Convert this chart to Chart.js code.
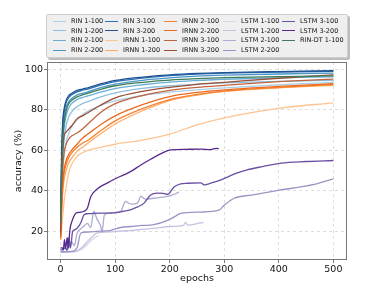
<!DOCTYPE html>
<html>
<head>
<meta charset="utf-8">
<script src="https://cdn.jsdelivr.net/npm/chart.js@4/dist/chart.umd.min.js"></script>
<style>
  html, body { margin: 0; padding: 0; background: #fff; }
  #wrap { position: relative; width: 365px; height: 299px; overflow: hidden; }
  #c { position: absolute; left: 0; top: 0; }
  #legend { position: absolute; left: 46px; top: 14px; width: 300px; height: 42px;
            background: #efefef; border: 1px solid #cfcfcf; border-radius: 2px;
            box-shadow: 2px 2px 0 #bdbdbd; font-family: 'DejaVu Sans', sans-serif; }
  .li { position: absolute; height: 10px; white-space: nowrap; font-size: 6.5px; line-height: 10px; color: #111; }
  .lh { position: absolute; top: 4.5px; width: 13px; height: 0; border-top: 1.3px solid; }
  .lt { position: absolute; left: 18px; top: 0; }
</style>
</head>
<body>
<div id="wrap">
  <canvas id="c" width="365" height="299"></canvas>
  <div id="legend"></div>
</div>
<script>
// ---------------- DATA ----------------
const seriesNames = [
  'RIN 1-100','RIN 1-200','RIN 2-100','RIN 2-200',
  'RIN 3-100','RIN 3-200','IRNN 1-100','IRNN 1-200',
  'IRNN 2-100','IRNN 2-200','IRNN 3-100','IRNN 3-200',
  'LSTM 1-100','LSTM 1-200','LSTM 2-100','LSTM 2-200',
  'LSTM 3-100','LSTM 3-200','RIN-DT 1-100'
];
const seriesColors = [
  '#abd0e6','#8cc0de','#6aaed6','#4a94c8',
  '#2a72b4','#1f5292','#fdc490','#fdab67',
  '#f8812e','#ea6a20','#c0653f','#9c5035',
  '#d6d6ea','#c4c3df','#aeacd2','#9a94c5',
  '#6a4fa3','#55288f','#3d7d57'
];

// epochs shared by RIN / IRNN runs
const epochsMain = [0, 2, 4, 6, 10, 15, 20, 30, 40, 50, 75, 100, 150, 200, 250, 300, 400, 500];
const rin1_100  = [18, 38, 50, 57, 64, 68.5, 71.5, 75, 77.5, 79.3, 82.3, 84.3, 87, 88.7, 89.8, 90.8, 92.3, 93.5];
const rin1_200  = [20, 42, 56, 64, 72, 76.5, 79, 81.5, 83, 84, 86.5, 88.3, 90.5, 91.8, 92.6, 93.2, 94, 94.5];
const rin2_100  = [22, 47, 62, 70, 77, 81, 83, 85, 86, 86.8, 88.8, 90.4, 92.3, 93.6, 94.4, 95, 95.7, 96.2];
const rin2_200  = [25, 52, 68, 75, 81, 84, 85.5, 87.2, 88, 88.8, 91, 92.6, 94.5, 95.7, 96.5, 97, 97.6, 98];
const rin3_100  = [28, 57, 72, 78, 83.5, 86, 87.3, 88.8, 89.6, 90.2, 92.2, 93.8, 95.6, 96.8, 97.5, 98, 98.5, 98.9];
const rin3_200  = [30, 60, 75, 80, 84.5, 87, 88, 89.5, 90.2, 90.8, 92.8, 94.4, 96.1, 97.2, 97.9, 98.3, 98.8, 99.2];
const irnn1_100 = [16, 22, 28, 34, 42, 49, 53, 57, 58.8, 60, 61.5, 63, 65, 68, 72.5, 76, 80.7, 83.4];
const irnn1_200 = [16, 30, 40, 45, 50, 54, 56, 59.5, 61.5, 63.5, 68.5, 73, 79.5, 84.5, 87.2, 89, 90.8, 92];
const irnn2_100 = [17, 33, 42, 48, 53, 56.5, 58.5, 61.5, 63.5, 65, 70, 74.5, 80.5, 85, 87.5, 89.2, 91, 92.4];
const irnn2_200 = [17, 35, 45, 50, 55, 58, 60, 63, 66, 68, 73, 77, 82.5, 86.5, 88.5, 89.8, 91.5, 92.8];
const irnn3_100 = [18, 40, 52, 58, 63, 65.5, 67, 68.5, 70.5, 73, 79, 83, 87, 89.5, 91, 92, 93.8, 95.1];
const irnn3_200 = [20, 50, 60, 66.7, 69, 70.5, 72, 75.5, 77, 78.5, 82.5, 85.8, 89, 91, 92.5, 93.5, 95.5, 97.2];
const rinDt1_100 = [25, 50, 66, 73, 79.5, 83, 84.5, 86.3, 87.3, 88.1, 90.2, 91.8, 93.5, 94.6, 95.3, 95.8, 96.3, 96.7];

// LSTM runs (different lengths)
const lstm1_100Ep  = [0, 10, 20, 30, 40, 50, 60, 70];
const lstm1_100    = [10, 10, 10, 10.3, 11.5, 14, 16.5, 18];
const lstm1_200Ep  = [0, 15, 30, 40, 49, 58, 67, 80, 98, 120, 141, 170, 202, 225, 229, 233, 257, 262];
const lstm1_200    = [10, 10, 10.5, 12.5, 15, 17.5, 19.3, 19.7, 20, 20.4, 20.9, 21.6, 22.5, 23, 24.5, 23.2, 24.3, 24.5];
const lstm2_100Ep  = [0, 8, 15, 20, 25, 30, 35, 40, 49, 55, 61, 64, 67, 73, 76, 80, 86, 100, 110, 119, 125, 130, 141, 147, 155, 171, 196, 210, 217];
const lstm2_100    = [10, 10, 12, 15, 13, 19, 21, 22, 24, 22, 30, 28, 26, 23, 20, 28, 29, 29.5, 30, 34.8, 34, 33.5, 34, 37.3, 36, 36.4, 37.3, 38.5, 39.5];
const lstm2_200Ep  = [0, 10, 20, 30, 37, 50, 70, 90, 110, 130, 150, 171, 196, 210, 220, 257, 290, 300, 318, 350, 404, 440, 465, 494, 500];
const lstm2_200    = [10, 10, 10.2, 12, 19.3, 19.8, 20.2, 20.5, 22, 22.5, 23, 23.4, 25.5, 27.5, 29, 29.6, 30.5, 33, 36.4, 38, 40.5, 42, 43.2, 45.5, 46];
const lstm3_100Ep  = [0, 4, 8, 12, 15, 18, 22, 27, 33, 38, 43, 50, 61, 80, 98, 115, 128, 140, 153, 165, 177, 188, 196, 208, 220, 232, 257, 263, 275, 294, 320, 342, 370, 404, 450, 500];
const lstm3_100    = [11, 11, 12, 11, 17, 12, 20, 21, 22.5, 25, 28.3, 28.8, 29, 29.1, 29.2, 30, 30.7, 32, 34, 38, 38.9, 38.8, 38.3, 42, 43.5, 43.8, 44, 43, 43.8, 45.5, 48.5, 50.4, 52, 53.7, 54.5, 55];
const lstm3_200Ep  = [0, 3, 5, 7, 9, 12, 14, 17, 22, 28, 35, 43, 49, 55, 67, 86, 104, 128, 147, 165, 185, 202, 230, 257, 275, 285, 290];
const lstm3_200    = [12, 12, 11, 16, 11.5, 17, 12, 21, 26, 29, 29.5, 30, 31.5, 37, 41, 44, 46.5, 49.5, 52.8, 55.6, 58.5, 60.2, 60.5, 60.6, 60.4, 61, 60.8];

const xTicks = [0, 100, 200, 300, 400, 500];
const yTicks = [20, 40, 60, 80, 100];

// ---------------- BUILD ----------------
const seriesData = [
  [epochsMain, rin1_100], [epochsMain, rin1_200], [epochsMain, rin2_100], [epochsMain, rin2_200],
  [epochsMain, rin3_100], [epochsMain, rin3_200], [epochsMain, irnn1_100], [epochsMain, irnn1_200],
  [epochsMain, irnn2_100], [epochsMain, irnn2_200], [epochsMain, irnn3_100], [epochsMain, irnn3_200],
  [lstm1_100Ep, lstm1_100], [lstm1_200Ep, lstm1_200], [lstm2_100Ep, lstm2_100], [lstm2_200Ep, lstm2_200],
  [lstm3_100Ep, lstm3_100], [lstm3_200Ep, lstm3_200], [epochsMain, rinDt1_100]
];
const N = seriesNames.length;
const datasets = seriesNames.map((name, i) => ({
  label: name,
  data: seriesData[i][0].map((e, k) => ({ x: e, y: seriesData[i][1][k] })),
  borderColor: seriesColors[i],
  backgroundColor: seriesColors[i],
  borderWidth: 1.3,
  pointRadius: 0,
  fill: false,
  cubicInterpolationMode: 'monotone',
  order: N - i
}));

const frame = {
  id: 'frame',
  afterDatasetsDraw(chart) {
    const a = chart.chartArea, ctx = chart.ctx;
    ctx.save();
    ctx.strokeStyle = '#777';
    ctx.lineWidth = 1;
    ctx.strokeRect(Math.round(a.left) + 0.5, Math.round(a.top) + 0.5, Math.round(a.right - a.left) - 1, Math.round(a.bottom - a.top) - 1);
    ctx.restore();
  }
};

const tickFont = { family: 'DejaVu Sans', size: 9.5 };
new Chart(document.getElementById('c'), {
  type: 'line',
  data: { datasets },
  options: {
    responsive: false,
    animation: false,
    devicePixelRatio: 1,
    layout: { padding: { left: 0, right: 18, top: 62, bottom: 0 } },
    plugins: { legend: { display: false }, tooltip: { enabled: false } },
    scales: {
      x: {
        type: 'linear', min: -25, max: 525,
        afterBuildTicks: s => { s.ticks = xTicks.map(v => ({ value: v })); },
        afterFit: s => { s.height = 39; },
        ticks: { font: tickFont, color: '#111', padding: 1, maxRotation: 0 },
        grid: { color: '#d6d6d6', lineWidth: 0.8, tickLength: 3, tickColor: '#555' },
        border: { display: false, dash: [3, 3] },
        title: { display: true, text: 'epochs', font: tickFont, color: '#111', padding: { top: 0, bottom: 15 } }
      },
      y: {
        type: 'linear', min: 6, max: 103.5,
        afterBuildTicks: s => { s.ticks = yTicks.map(v => ({ value: v })); },
        afterFit: s => { s.width = 47; },
        ticks: { font: tickFont, color: '#111', padding: 1 },
        grid: { color: '#d6d6d6', lineWidth: 0.8, tickLength: 3, tickColor: '#555' },
        border: { display: false, dash: [3, 3] },
        title: { display: true, text: 'accuracy (%)', font: tickFont, color: '#111', padding: { top: 13, bottom: 0 } }
      }
    }
  },
  plugins: [frame]
});

// HTML legend (column-major, 4 rows x 5 columns)
const legendColX = [6, 58, 117, 176, 235];
const legendRowY = [1, 10.7, 20.4, 30.1];
const leg = document.getElementById('legend');
seriesNames.forEach((name, i) => {
  const col = Math.floor(i / 4), row = i % 4;
  const item = document.createElement('div');
  item.className = 'li';
  item.style.left = legendColX[col] + 'px';
  item.style.top = legendRowY[row] + 'px';
  const h = document.createElement('span');
  h.className = 'lh';
  h.style.borderTopColor = seriesColors[i];
  const t = document.createElement('span');
  t.className = 'lt';
  t.textContent = name;
  item.appendChild(h); item.appendChild(t);
  leg.appendChild(item);
});
</script>
</body>
</html>
